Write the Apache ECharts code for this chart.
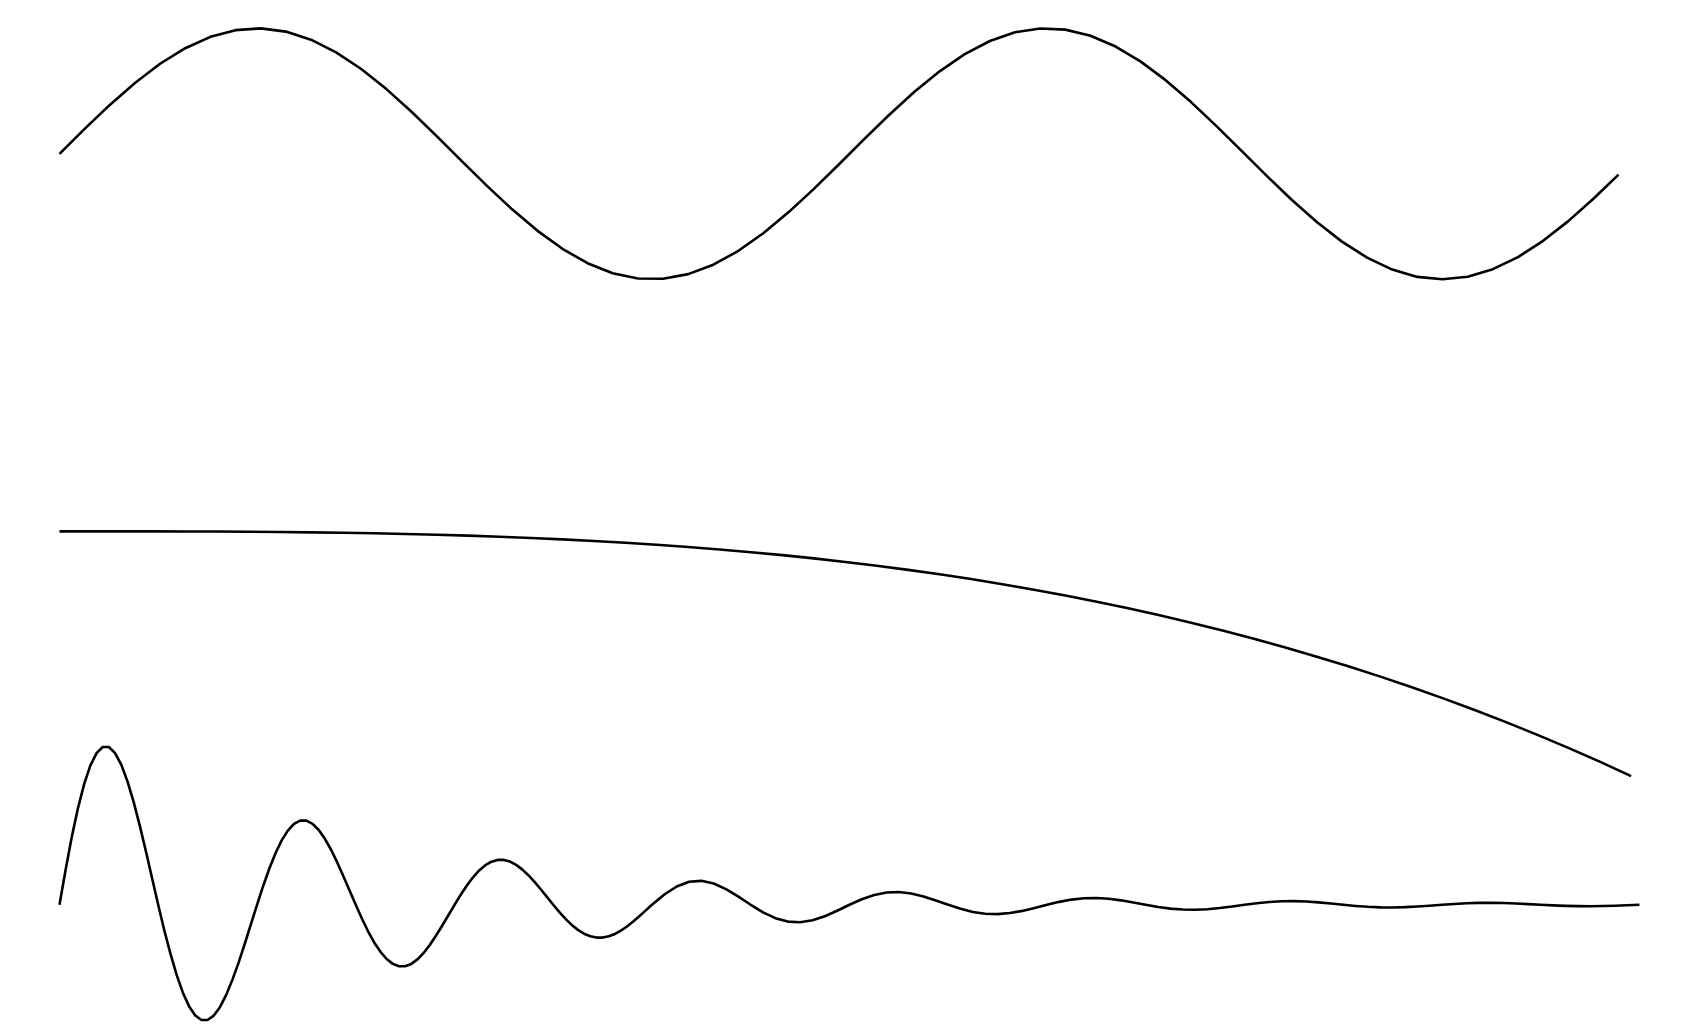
<!DOCTYPE html>
<html>
<head>
<meta charset="utf-8">
<script src="https://cdn.jsdelivr.net/npm/echarts@6/dist/echarts.min.js"></script>
<style>
html,body{margin:0;padding:0;background:#fff;}
#chart{width:1699px;height:1034px;}
</style>
</head>
<body>
<div id="chart"></div>
<script>
// Top curve (oscillation)
const tTop = [0,0.2,0.4,0.6,0.8,1.0,1.2,1.4,1.6,1.8,2.0,2.2,2.4,2.6,2.8,3.0,3.2,3.4,3.6,3.8,4.0,4.2,4.4,4.6,4.8,5.0,5.2,5.4,5.6,5.8,6.0,6.2,6.4,6.6,6.8,7.0,7.2,7.4,7.6,7.8,8.0,8.2,8.4,8.6,8.8,9.0,9.2,9.4,9.6,9.8,10.0,10.2,10.4,10.6,10.8,11.0,11.2,11.4,11.6,11.8,12.0,12.2,12.4];
const yTop = [0,0.1987,0.3894,0.5646,0.7174,0.8415,0.9320,0.9854,0.9996,0.9738,0.9093,0.8085,0.6755,0.5155,0.3350,0.1411,-0.0584,-0.2555,-0.4425,-0.6119,-0.7568,-0.8716,-0.9516,-0.9937,-0.9962,-0.9589,-0.8835,-0.7728,-0.6313,-0.4646,-0.2794,-0.0831,0.1165,0.3115,0.4941,0.6570,0.7937,0.8987,0.9679,0.9985,0.9894,0.9407,0.8546,0.7344,0.5849,0.4121,0.2229,0.0248,-0.1743,-0.3665,-0.5440,-0.6999,-0.8278,-0.9227,-0.9809,-1.0000,-0.9792,-0.9193,-0.8228,-0.6936,-0.5366,-0.3582,-0.1656];

// Middle curve (slow decline)
const tMid = [0,0.25,0.5,0.75,1.0,1.25,1.5,1.75,2.0,2.25,2.5,2.75,3.0,3.25,3.5,3.75,4.0,4.25,4.5,4.75,5.0,5.25,5.5,5.75,6.0,6.25,6.5,6.75,7.0,7.25,7.5,7.75,8.0,8.25,8.5,8.75,9.0,9.25,9.5,9.75,10.0,10.25,10.5,10.75,11.0,11.25,11.5,11.75,12.0,12.25,12.5];
const yMid = [0,-0.0156,-0.125,-0.4219,-1,-1.953,-3.375,-5.359,-8,-11.39,-15.625,-20.80,-27,-34.33,-42.875,-52.73,-64,-76.77,-91.125,-107.17,-125,-144.70,-166.375,-190.11,-216,-244.14,-274.625,-307.55,-343,-381.08,-421.875,-465.48,-512,-561.52,-614.125,-669.92,-729,-791.45,-857.375,-926.86,-1000,-1076.89,-1157.625,-1242.30,-1331,-1423.83,-1520.875,-1622.23,-1728,-1838.27,-1953.125];

// Bottom curve (damped oscillation)
const tBot = [
0,0.049,0.098,0.147,0.196,0.245,0.295,0.344,0.393,0.442,0.491,0.540,0.589,0.638,0.687,0.736,
0.785,0.834,0.884,0.933,0.982,1.031,1.080,1.129,1.178,1.227,1.276,1.325,1.374,1.424,1.473,1.522,
1.571,1.620,1.669,1.718,1.767,1.816,1.865,1.914,1.963,2.013,2.062,2.111,2.160,2.209,2.258,2.307,
2.356,2.405,2.454,2.503,2.553,2.602,2.651,2.700,2.749,2.798,2.847,2.896,2.945,2.994,3.043,3.093,
3.142,3.191,3.240,3.289,3.338,3.387,3.436,3.485,3.534,3.583,3.632,3.682,3.731,3.780,3.829,3.878,
3.927,3.976,4.025,4.074,4.123,4.172,4.222,4.271,4.320,4.369,4.418,4.467,4.516,4.565,4.614,4.663,
4.712,4.811,4.909,5.007,5.105,5.203,5.301,5.400,5.498,5.596,5.694,5.792,5.890,5.989,6.087,6.185,
6.283,6.381,6.480,6.578,6.676,6.774,6.872,6.970,7.069,7.167,7.265,7.363,7.461,7.559,7.658,7.756,
7.854,7.952,8.050,8.149,8.247,8.345,8.443,8.541,8.639,8.738,8.836,8.934,9.032,9.130,9.228,9.327,
9.425,9.523,9.621,9.719,9.817,9.916,10.014,10.112,10.210,10.308,10.407,10.505,10.603,10.701,10.799,10.897,
10.996,11.094,11.192,11.290,11.388,11.486,11.585,11.683,11.781,11.879,11.977,12.075,12.174,12.272,12.370,12.468,
12.566];
const yBot = [
0,0.1913,0.3680,0.5238,0.6537,0.7537,0.8212,0.8548,0.8546,0.8219,0.7592,0.6700,0.5587,0.4304,0.2907,0.1453,
0,-0.1397,-0.2688,-0.3826,-0.4775,-0.5505,-0.5998,-0.6243,-0.6242,-0.6003,-0.5545,-0.4894,-0.4081,-0.3144,-0.2123,-0.1061,
0,0.1021,0.1963,0.2794,0.3488,0.4021,0.4381,0.4560,0.4559,0.4385,0.4050,0.3574,0.2981,0.2296,0.1551,0.0775,
0,-0.0745,-0.1434,-0.2041,-0.2547,-0.2937,-0.3200,-0.3331,-0.3330,-0.3203,-0.2959,-0.2611,-0.2177,-0.1677,-0.1133,-0.0566,
0,0.0544,0.1047,0.1491,0.1860,0.2145,0.2337,0.2433,0.2432,0.2339,0.2161,0.1907,0.1590,0.1225,0.0827,0.0414,
0,-0.0398,-0.0765,-0.1089,-0.1359,-0.1567,-0.1707,-0.1777,-0.1777,-0.1709,-0.1578,-0.1393,-0.1162,-0.0895,-0.0604,-0.0302,
0,0.0559,0.0992,0.1247,0.1297,0.1152,0.0848,0.0441,
0,-0.0408,-0.0725,-0.0911,-0.0948,-0.0842,-0.0620,-0.0322,
0,0.0298,0.0529,0.0665,0.0692,0.0615,0.0453,0.0235,
0,-0.0218,-0.0387,-0.0486,-0.0506,-0.0449,-0.0331,-0.0172,
0,0.0159,0.0282,0.0355,0.0369,0.0328,0.0241,0.0126,
0,-0.0116,-0.0207,-0.0259,-0.0270,-0.0240,-0.0177,-0.0092,
0,0.0085,0.0151,0.0190,0.0197,0.0175,0.0129,0.0067,
0,-0.0062,-0.0110,-0.0138,-0.0144,-0.0128,-0.0094,-0.0049,
0,0.0045,0.0080,0.0101,0.0105,0.0093,0.0069,0.0036,
0,-0.0033,-0.0059,-0.0074,-0.0077,-0.0068,-0.0050,-0.0026,
0];

function pairs(xs, ys){ return xs.map((x,i)=>[x, ys[i]]); }

const chart = echarts.init(document.getElementById('chart'), null, {renderer:'canvas'});
const gridLeft = 59.5, gridWidth = 1584.2;
const lineStyle = {color:'#000000', width:2.6, join:'round', cap:'butt'};
const hiddenX = (gi)=>({type:'value', gridIndex:gi, min:0, max:12.6, show:false});
chart.setOption({
  animation:false,
  backgroundColor:'#ffffff',
  grid:[
    {left:gridLeft, width:gridWidth, top:15.75, height:276.1},
    {left:gridLeft, width:gridWidth, top:518.8, height:269.4},
    {left:gridLeft, width:gridWidth, top:720.2, height:319.3}
  ],
  xAxis:[hiddenX(0), hiddenX(1), hiddenX(2)],
  yAxis:[
    {type:'value', gridIndex:0, min:-1.1, max:1.1, show:false},
    {type:'value', gridIndex:1, min:-2050, max:100, show:false},
    {type:'value', gridIndex:2, min:-0.7, max:1.0, show:false}
  ],
  series:[
    {type:'line', xAxisIndex:0, yAxisIndex:0, data:pairs(tTop,yTop), showSymbol:false, clip:false, lineStyle:lineStyle},
    {type:'line', xAxisIndex:1, yAxisIndex:1, data:pairs(tMid,yMid), showSymbol:false, clip:false, lineStyle:lineStyle},
    {type:'line', xAxisIndex:2, yAxisIndex:2, data:pairs(tBot,yBot), showSymbol:false, clip:false, lineStyle:lineStyle}
  ]
});
</script>
</body>
</html>
